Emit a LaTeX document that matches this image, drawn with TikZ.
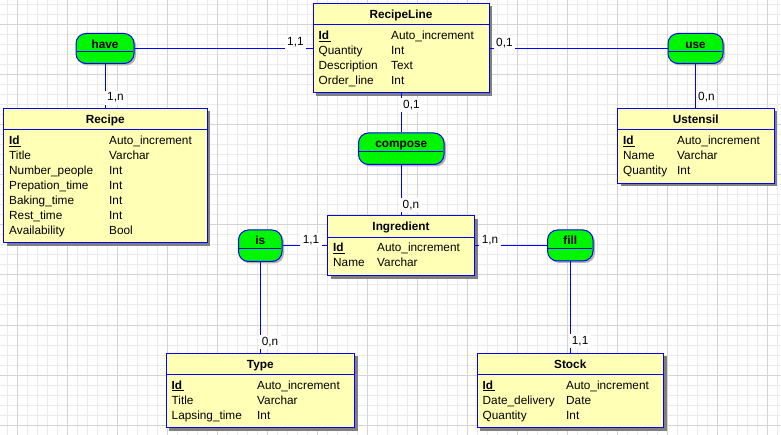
\documentclass[tikz,border=0pt]{standalone}
\usepackage{fontspec}
\setmainfont{Liberation Sans}
\usetikzlibrary{fit,calc}
\definecolor{entfill}{HTML}{FFFFB5}
\definecolor{relfill}{HTML}{00F500}
\definecolor{erblue}{HTML}{0000FF}
\definecolor{shadowc}{HTML}{808080}
\definecolor{gridminor}{HTML}{EBEBEB}
\definecolor{gridmajor}{HTML}{D4D4D4}
\tikzset{
  txt/.style={font=\fontsize{11.8}{14}\selectfont, inner sep=0pt, text=black},
  ttl/.style={font=\fontsize{11.8}{14}\selectfont\bfseries, inner sep=0pt, text=black},
  entbox/.style={draw=erblue, fill=entfill, line width=1pt, inner sep=0pt},
  relbox/.style={draw=erblue, fill=relfill, line width=1pt, inner sep=0pt, rounded corners=10pt},
  link/.style={draw=erblue, line width=1pt},
  card/.style={font=\fontsize{11.8}{14}\selectfont, text=black, fill=white, inner xsep=2.5pt, inner ysep=2pt},
}
% #1 name, #2 x0, #3 y0, #4 x1, #5 y1, #6 title, #7 type column x, #8 other rows
\newcommand\erentity[8]{%
  \fill[shadowc] (#2+3,#3+3) rectangle (#4+3,#5+3);
  \node[entbox, fit={(#2,#3) (#4,#5)}] (#1) {};
  \draw[link] (#2,#3+21.5) -- (#4,#3+21.5);
  \node[ttl, anchor=base] at ({(#2+#4)/2}, #3+15) {#6};
  \node[ttl, anchor=base west] at (#2+5.5, #3+36) {\underline{Id\hspace{1.5pt}}};
  \node[txt, anchor=base west] at (#7, #3+36) {Auto\_increment};
  \foreach \an/\at [count=\i] in {#8} {
    \node[txt, anchor=base west] at (#2+5.5, #3+36+15*\i) {\an};
    \node[txt, anchor=base west] at (#7, #3+36+15*\i) {\at};
  }
}
% #1 name, #2 x0, #3 y0, #4 x1, #5 y1, #6 label
\newcommand\errel[6]{%
  \fill[shadowc!60, rounded corners=10pt] (#2+2,#3+2) rectangle (#4+2,#5+2);
  \node[relbox, fit={(#2,#3) (#4,#5)}] (#1) {};
  \draw[erblue, line width=1pt] (#2+0.6,#3+18.5) -- (#4-0.6,#3+18.5);
  \node[ttl, anchor=base] at ({(#2+#4)/2}, #3+14.8) {#6};
}
\begin{document}
\begin{tikzpicture}[x=1pt, y=-1pt]
\useasboundingbox (0,0) rectangle (781,435);
\fill[white] (0,0) rectangle (781,435);
% grid
\foreach \gx in {7,17,...,777} \draw[gridminor, line width=1pt] (\gx,0) -- (\gx,435);
\foreach \gy in {5,15,...,435} \draw[gridminor, line width=1pt] (0,\gy) -- (781,\gy);
\foreach \gx in {17,67,...,767} \draw[gridmajor, line width=1pt] (\gx,0) -- (\gx,435);
\foreach \gy in {25,75,...,425} \draw[gridmajor, line width=1pt] (0,\gy) -- (781,\gy);

% entities
\erentity{recipeline}{313}{3.5}{489}{93}{RecipeLine}{391}{Quantity/Int, Description/Text, Order\_line/Int}
\erentity{recipe}{3.5}{108.5}{207}{243}{Recipe}{109}{Title/Varchar, Number\_people/Int, Prepation\_time/Int, Baking\_time/Int, Rest\_time/Int, Availability/Bool}
\erentity{ustensil}{617.5}{108.5}{774}{183.5}{Ustensil}{677}{Name/Varchar, Quantity/Int}
\erentity{ingredient}{327.5}{216}{474.5}{276}{Ingredient}{377}{Name/Varchar}
\erentity{type}{166}{353}{354.5}{427.5}{Type}{257}{Title/Varchar, Lapsing\_time/Int}
\erentity{stock}{477}{353}{663.5}{427.5}{Stock}{566}{Date\_delivery/Date, Quantity/Int}

% relationships
\errel{have}{76}{33.5}{134}{63.5}{have}
\errel{use}{668}{33.5}{723}{63.5}{use}
\errel{compose}{358.5}{133}{444}{164.5}{compose}
\errel{is}{238.5}{230}{282}{261.5}{is}
\errel{fill}{547.5}{230}{593}{261}{fill}

% connectors
\draw[link] (have.east) -- (have.east -| recipeline.west);
\draw[link] (have.south) -- (have.south |- recipe.north);
\draw[link] (use.west) -- (use.west -| recipeline.east);
\draw[link] (use.south) -- (use.south |- ustensil.north);
\draw[link] (compose.north) -- (compose.north |- recipeline.south);
\draw[link] (compose.south) -- (compose.south |- ingredient.north);
\draw[link] (is.east) -- (is.east -| ingredient.west);
\draw[link] (is.south) -- (is.south |- type.north);
\draw[link] (fill.west) -- (fill.west -| ingredient.east);
\draw[link] (fill.south) -- (fill.south |- stock.north);

% cardinalities
\node[card, anchor=base west] (c1) at (284.5,46) {1,1};
\node[card, anchor=base west] (c2) at (104.5,101) {1,n};
\node[card, anchor=base west] (c3) at (493.5,46.5) {0,1};
\node[card, anchor=base west] (c4) at (695.5,101) {0,n};
\node[card, anchor=base west] (c5) at (400.5,108.3) {0,1};
\node[card, anchor=base west] (c6) at (400,208.3) {0,n};
\node[card, anchor=base west] (c7) at (300.2,243.3) {1,1};
\node[card, anchor=base west] (c8) at (259.2,345.3) {0,n};
\node[card, anchor=base west] (c9) at (479.2,243.3) {1,n};
\node[card, anchor=base west] (c10) at (569.2,344.3) {1,1};
\end{tikzpicture}
\end{document}
